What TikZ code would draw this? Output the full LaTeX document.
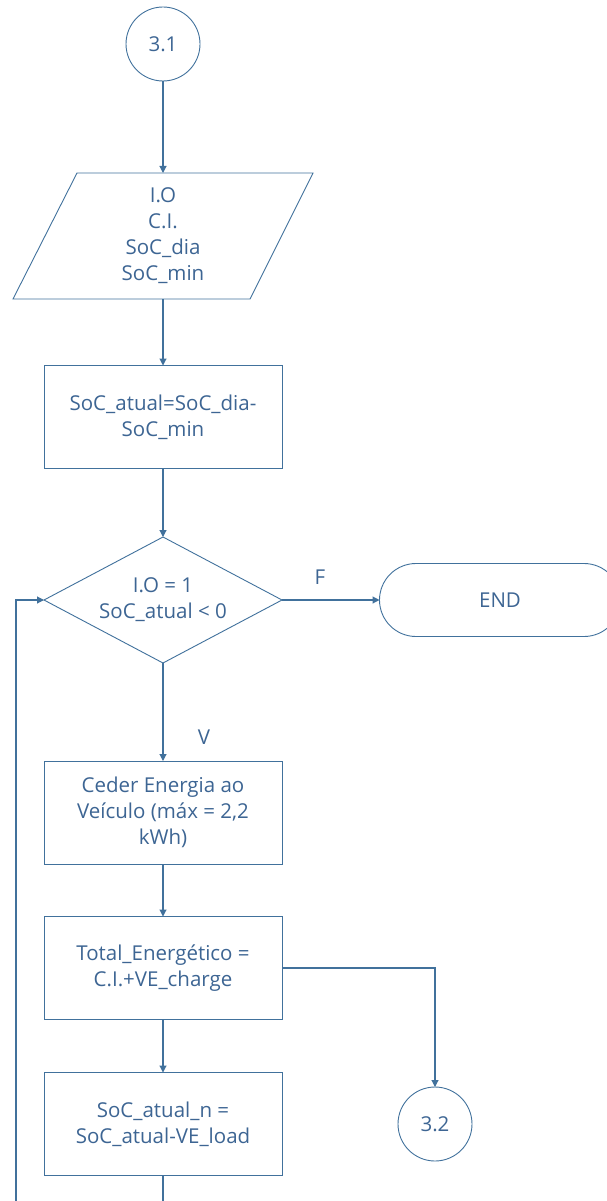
\documentclass[tikz,border=0pt]{standalone}
\usepackage{fontspec}
\setmainfont{Open Sans}
\usetikzlibrary{arrows.meta,shapes.geometric}
\definecolor{ln}{HTML}{41719C}
\definecolor{tx}{HTML}{3D6593}
\begin{document}
\begin{tikzpicture}[x=1pt,y=-1pt,
  every node/.style={text=tx,font=\fontsize{20.5}{26}\selectfont,align=center},
  box/.style={draw=ln,line width=0.9pt,minimum width=238pt,minimum height=103pt,inner sep=0pt,outer sep=0pt},
  conn/.style={draw=ln,line width=1.1pt},
  arr/.style={conn,-{Triangle[length=7pt,width=7pt]}},
  circ/.style={draw=ln,line width=0.9pt,circle,minimum size=74pt,inner sep=0pt,outer sep=0pt},
  lbl/.style={font=\fontsize{20.5}{24}\selectfont}]
\useasboundingbox (0,0) rectangle (607,1201);
\clip (0,0) rectangle (607,1201);
% start connector
\node[circ] (c31) at (163,44) {3.1};
% input parallelogram
\coordinate (pTL) at (77,173);
\coordinate (pTR) at (313,173);
\coordinate (pBR) at (250,299);
\coordinate (pBL) at (13,299);
\draw[ln,line width=0.9pt] (pTL) -- (pTR) -- (pBR) -- (pBL) -- cycle;
\coordinate (pTop) at (163,173);
\coordinate (pBot) at (163,299);
\node (inp) at (163,236) {I.O\\C.I.\\SoC\_dia\\SoC\_min};
% process 1
\node[box] (r1) at (163,417) {SoC\_atual=SoC\_dia-\\SoC\_min};
% decision
\node[draw=ln,line width=0.9pt,diamond,aspect=1.89,minimum width=238pt,minimum height=126pt,inner sep=0pt,outer sep=0pt] (d) at (163,600) {I.O = 1\\SoC\_atual {<} 0};
% end
\node[draw=ln,line width=0.9pt,rounded corners=36.5pt,minimum width=241pt,minimum height=73pt,inner sep=0pt,outer sep=0pt] (endn) at (500,600) {END};
% process 2..4
\node[box] (r2) at (163,812.5) {Ceder Energia ao\\Veículo (máx = 2,2\\kWh)};
\node[box] (r3) at (163,968) {Total\_Energético =\\C.I.+VE\_charge};
\node[box] (r4) at (163,1124) {SoC\_atual\_n =\\SoC\_atual-VE\_load};
\node[circ] (c32) at (435,1124) {3.2};
% labels
\node[lbl] (lf) at (320,577) {F};
\node[lbl] (lv) at (204,737) {V};
% connectors
\draw[arr] (c31) -- (pTop);
\draw[arr] (pBot) -- (r1);
\draw[arr] (r1) -- (d);
\draw[arr] (d.east) -- (endn.west);
\draw[arr] (d.south) -- (r2.north);
\draw[arr] (r2) -- (r3);
\draw[arr] (r3) -- (r4);
\draw[arr] (r3.east) -| (c32.north);
\coordinate (loopIn) at (16,1201);
\coordinate (outBot) at (163,1201);
\draw[conn] (r4.south) -- (outBot);
\draw[arr] (loopIn) |- (d.west);
\end{tikzpicture}
\end{document}
